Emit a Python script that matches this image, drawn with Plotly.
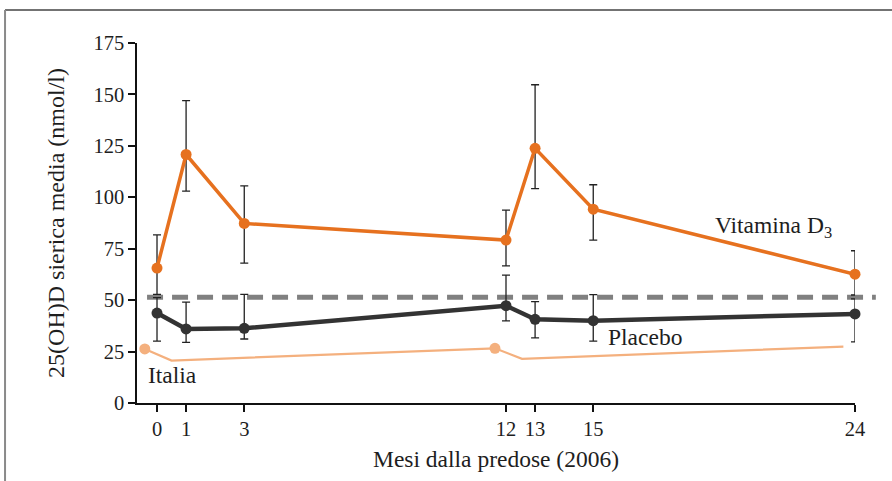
import plotly.graph_objects as go

# ---- data ----
months = [0, 1, 3, 12, 13, 15, 24]
tick_labels = ["0", "1", "3", "12", "13", "15", "24"]

vitd_mean = [65.6, 120.8, 87.3, 79.2, 123.8, 94.2, 62.6]
vitd_err_plus = [16.1, 26.2, 18.2, 14.6, 30.9, 11.9, 11.4]
vitd_err_minus = [12.8, 17.8, 19.3, 12.5, 19.6, 15.0, 10.1]

plac_mean = [43.7, 36.0, 36.3, 47.3, 40.7, 40.0, 43.3]
plac_err_plus = [7.5, 13.0, 16.5, 14.9, 8.6, 12.7, 7.3]
plac_err_minus = [13.6, 6.5, 5.2, 7.4, 9.0, 9.9, 13.6]

italia_x = [-0.42, 0.5, 11.62, 12.55, 23.6]
italia_y = [26.3, 20.6, 26.6, 21.5, 27.4]
italia_marker_x = [-0.42, 11.62]
italia_marker_y = [26.3, 26.6]

threshold = 51.4

FONT = "Liberation Serif"
ORANGE = "#E6711F"
DARK = "#333333"
LIGHT = "#F4B07E"
TXT = "#1e1e1e"

fig = go.Figure()

fig.add_trace(go.Scatter(
    x=italia_x, y=italia_y, mode="lines",
    line=dict(color=LIGHT, width=2.2), cliponaxis=False, showlegend=False))
fig.add_trace(go.Scatter(
    x=italia_marker_x, y=italia_marker_y, mode="markers",
    marker=dict(color=LIGHT, size=11), cliponaxis=False, showlegend=False))

fig.add_trace(go.Scatter(
    x=months, y=plac_mean, mode="lines+markers",
    line=dict(color=DARK, width=4.5), marker=dict(color=DARK, size=11),
    error_y=dict(type="data", symmetric=False, array=plac_err_plus,
                 arrayminus=plac_err_minus, color="#222222", thickness=1.3, width=4),
    cliponaxis=False, showlegend=False))

fig.add_trace(go.Scatter(
    x=months, y=vitd_mean, mode="lines+markers",
    line=dict(color=ORANGE, width=3.5), marker=dict(color=ORANGE, size=11),
    error_y=dict(type="data", symmetric=False, array=vitd_err_plus,
                 arrayminus=vitd_err_minus, color="#222222", thickness=1.3, width=4),
    cliponaxis=False, showlegend=False))

# dashed reference line
fig.add_shape(type="line", xref="paper", yref="y", x0=0.014, x1=1.029,
              y0=threshold, y1=threshold,
              line=dict(color="#808080", width=5, dash="16px,9px"), layer="below")

# frame lines
fig.add_shape(type="line", xref="paper", yref="paper", x0=-0.1838, x1=1.06,
              y0=1.0917, y1=1.0917, line=dict(color="#444444", width=1.5))
fig.add_shape(type="line", xref="paper", yref="paper", x0=-0.1838, x1=-0.1838,
              y0=1.0917, y1=-0.25, line=dict(color="#8a8a8a", width=2))

fig.add_annotation(x=19.12, y=85.6, xanchor="left", yanchor="middle", showarrow=False,
                   text="Vitamina D<sub>3</sub>", font=dict(family=FONT, size=23.5, color=TXT))
fig.add_annotation(x=15.44, y=32.1, xanchor="left", yanchor="middle", showarrow=False,
                   text="Placebo", font=dict(family=FONT, size=23.5, color=TXT))
fig.add_annotation(x=-0.38, y=13.6, xanchor="left", yanchor="middle", showarrow=False,
                   text="Italia", font=dict(family=FONT, size=23.5, color=TXT))

fig.update_layout(
    width=892, height=481,
    margin=dict(l=137, r=37, t=43, b=78),
    paper_bgcolor="white", plot_bgcolor="white",
    font=dict(family=FONT, size=20, color=TXT),
)
fig.update_xaxes(
    range=[-0.688, 24], tickvals=months, ticktext=tick_labels,
    showline=True, linecolor="#111111", linewidth=1.5,
    ticks="outside", ticklen=7, tickwidth=1.5, tickcolor="#111111",
    showgrid=False, zeroline=False,
    tickfont=dict(family=FONT, size=20.5),
    title=dict(text="Mesi dalla predose (2006)", font=dict(family=FONT, size=23.5), standoff=11),
)
fig.update_yaxes(
    range=[0, 175], dtick=25, tick0=0,
    showline=True, linecolor="#111111", linewidth=1.5,
    ticks="outside", ticklen=7, tickwidth=1.5, tickcolor="#111111",
    showgrid=False, zeroline=False,
    tickfont=dict(family=FONT, size=20.5),
    title=dict(text="25(OH)D sierica media (nmol/l)", font=dict(family=FONT, size=24), standoff=22),
)

fig.write_html("out.html", config={"displayModeBar": False},
               post_script="document.body.style.margin='0px';")
